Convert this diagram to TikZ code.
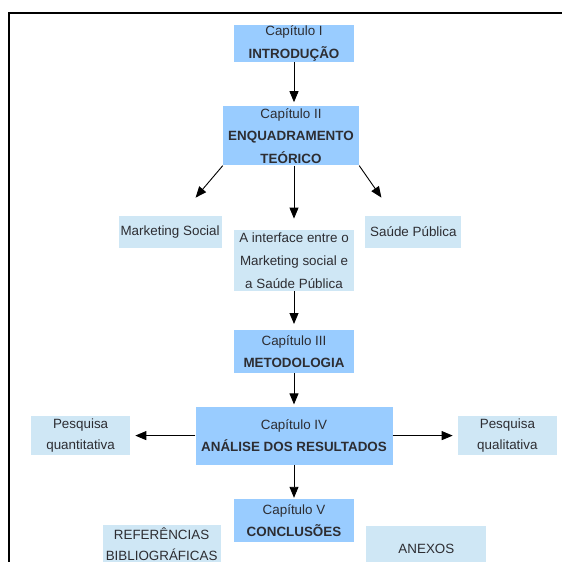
\documentclass[tikz,border=0pt]{standalone}
\usepackage{fontspec}
\setmainfont{Liberation Sans}
\usetikzlibrary{positioning, arrows.meta}
\definecolor{chapblue}{RGB}{153,204,255}
\definecolor{paleblue}{RGB}{207,231,245}
\definecolor{inkgray}{RGB}{45,45,50}

\begin{document}
\begin{tikzpicture}[
  x=1pt, y=1pt,
  chapter/.style={rectangle, fill=chapblue, minimum width=120pt, inner sep=0pt,
                  align=center, text=inkgray, font=\fontsize{13.4}{22.5}\selectfont},
  topic/.style={rectangle, fill=paleblue, inner sep=0pt,
                align=center, text=inkgray, font=\fontsize{13.4}{21.5}\selectfont},
  arr/.style={-{Triangle[length=11pt,width=9pt]}, line width=0.9pt, draw=black},
]
  \useasboundingbox (0,0) rectangle (562,-562);
  % Frame
  \draw[line width=1.3pt] (9,-562) -- (9,-13) -- (562,-13);

  % Chapters (vertical)
  \node[chapter, minimum height=37pt] (intro) at (294,-43.5)
      {Capítulo I\\\textbf{INTRODUÇÃO}};
  \node[chapter, minimum width=136pt, minimum height=59pt,
        below=44pt of intro, xshift=-3pt] (teorico)
      {Capítulo II\\\textbf{ENQUADRAMENTO}\\\textbf{TEÓRICO}};
  \node[topic, minimum width=120pt, minimum height=61pt,
        below=64pt of teorico, xshift=3pt, font=\fontsize{13.4}{23}\selectfont] (interface)
      {A interface entre o\\Marketing social e\\a Saúde Pública};
  \node[chapter, minimum height=43pt, below=39pt of interface] (metod)
      {Capítulo III\\\textbf{METODOLOGIA}};
  \node[chapter, minimum width=197pt, minimum height=58pt, below=33pt of metod] (analise)
      {Capítulo IV\\\textbf{ANÁLISE DOS RESULTADOS}};
  \node[chapter, minimum height=43pt, below=34pt of analise] (concl)
      {Capítulo V\\\textbf{CONCLUSÕES}};

  % Topics beside the chapters
  \node[topic, minimum width=103pt, minimum height=32pt,
        below left=50pt and 1pt of teorico] (mkt) {Marketing Social};
  \node[topic, minimum width=96pt, minimum height=32pt,
        below right=50pt and 6pt of teorico] (saude) {Saúde Pública};
  \node[topic, minimum width=99pt, minimum height=39pt, left=65pt of analise] (quant)
      {Pesquisa\\quantitativa};
  \node[topic, minimum width=99pt, minimum height=39pt, right=65pt of analise] (qual)
      {Pesquisa\\qualitativa};
  \node[topic, minimum width=118pt, minimum height=38pt,
        below left=26pt and 13pt of concl.north west,
        font=\fontsize{13.4}{20.5}\selectfont] (refs)
      {REFERÊNCIAS\\BIBLIOGRÁFICAS};
  \node[topic, minimum width=120pt, minimum height=46pt,
        below right=27pt and 12pt of concl.north east] (anexos) {ANEXOS};

  % Arrow ends above the side topics
  \coordinate (mkttip) at ([shift={(25.5pt,18pt)}]mkt.north);
  \coordinate (saudetip) at ([shift={(-32pt,18pt)}]saude.north);

  % Arrows
  \draw[arr, shorten >=4pt] (intro.south) -- (intro.south |- teorico.north);
  \draw[arr] (teorico.south west) -- (mkttip);
  \draw[arr] (teorico.south east) -- (saudetip);
  \draw[arr, shorten >=11pt] (interface.north |- teorico.south) -- (interface.north);
  \draw[arr, shorten >=6pt] (interface) -- (metod);
  \draw[arr, shorten >=2pt] (metod)   -- (analise);
  \draw[arr, shorten >=1pt] (analise) -- (concl);
  \draw[arr, shorten >=5pt] (analise) -- (quant);
  \draw[arr, shorten >=5pt] (analise) -- (qual);

\end{tikzpicture}
\end{document}
